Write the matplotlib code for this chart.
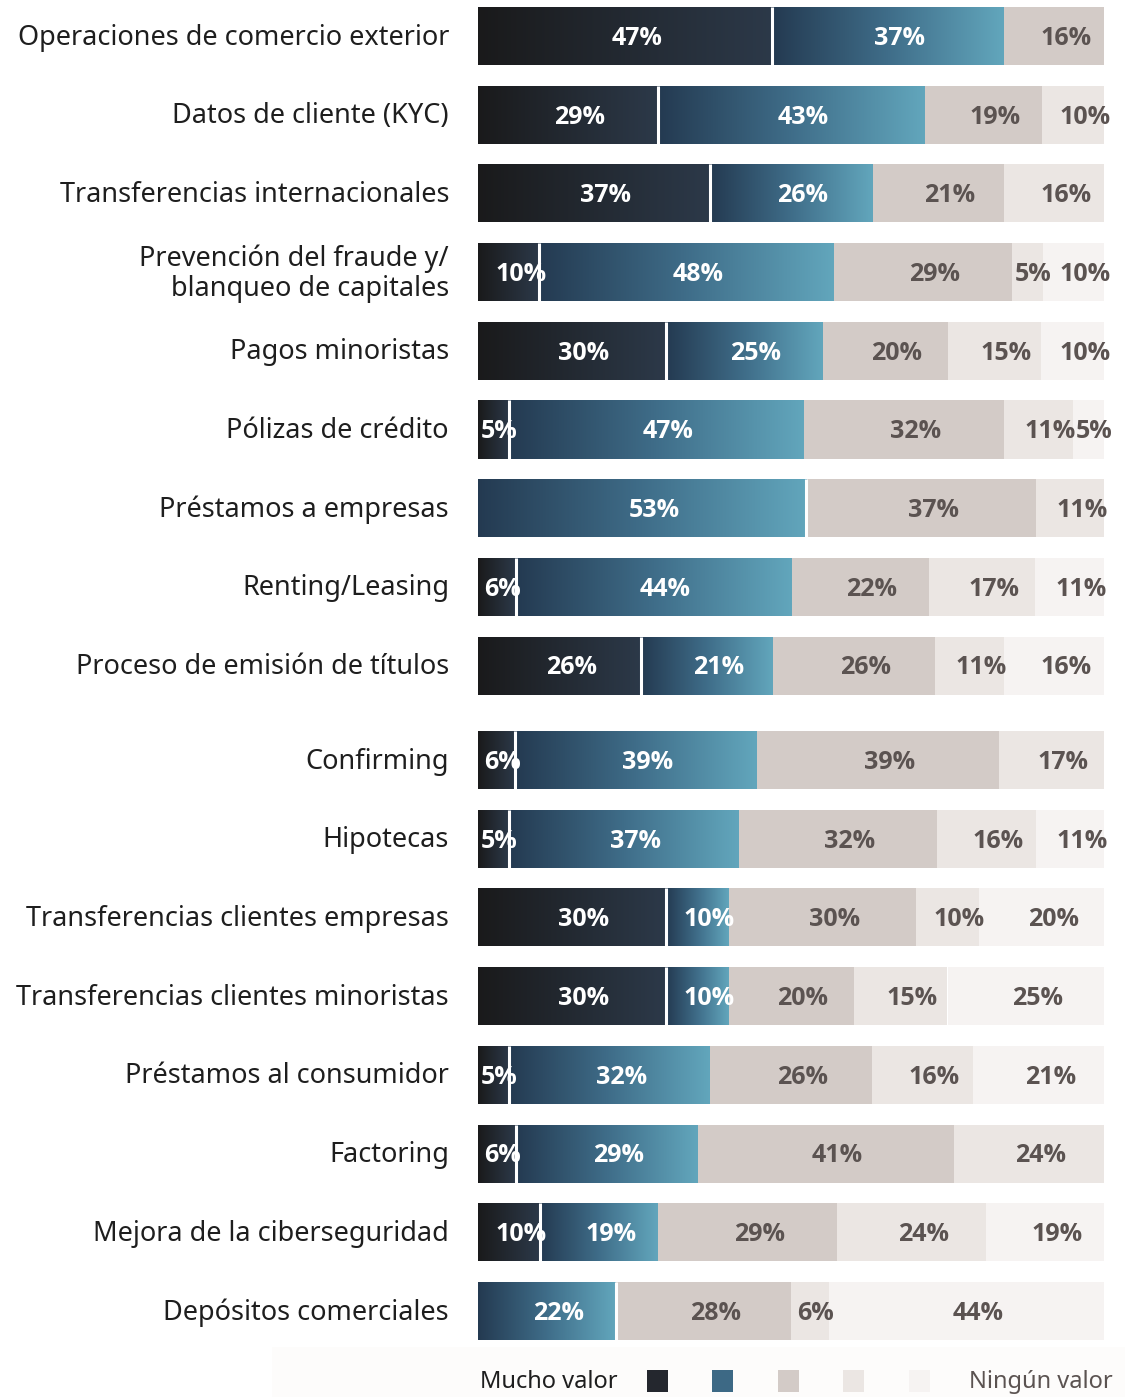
import numpy as np
import matplotlib
matplotlib.use("Agg")
import matplotlib.pyplot as plt
from matplotlib.colors import LinearSegmentedColormap
from matplotlib.patches import Rectangle

# ---------------- data ----------------
categories = [
    "Operaciones de comercio exterior",
    "Datos de cliente (KYC)",
    "Transferencias internacionales",
    "Prevención del fraude y/\nblanqueo de capitales",
    "Pagos minoristas",
    "Pólizas de crédito",
    "Préstamos a empresas",
    "Renting/Leasing",
    "Proceso de emisión de títulos",
    "Confirming",
    "Hipotecas",
    "Transferencias clientes empresas",
    "Transferencias clientes minoristas",
    "Préstamos al consumidor",
    "Factoring",
    "Mejora de la ciberseguridad",
    "Depósitos comerciales",
]
mucho_valor = [47, 29, 37, 10, 30, 5, 0, 6, 26, 6, 5, 30, 30, 5, 6, 10, 0]
valor_2     = [37, 43, 26, 48, 25, 47, 53, 44, 21, 39, 37, 10, 10, 32, 29, 19, 22]
valor_3     = [16, 19, 21, 29, 20, 32, 37, 22, 26, 39, 32, 30, 20, 26, 41, 29, 28]
valor_4     = [0, 10, 16, 5, 15, 11, 11, 17, 11, 17, 16, 10, 15, 16, 24, 24, 6]
ningun_valor = [0, 0, 0, 10, 10, 5, 0, 11, 16, 0, 11, 20, 25, 21, 0, 19, 44]
legend_left = "Mucho valor"
legend_right = "Ningún valor"

# ---------------- style ----------------
W, H, DPI = 1125, 1397, 100
font = "Noto Sans"
plt.rcParams["font.family"] = [font, "DejaVu Sans"]
val_font = ["Open Sans", "DejaVu Sans"]

seg_solid = ["#24272e", "#3d6985", "#d3cbc7", "#ebe6e3", "#f6f3f2"]
grad1 = LinearSegmentedColormap.from_list("g1", ["#1a1a1b", "#2c3949"])
grad2 = LinearSegmentedColormap.from_list("g2", ["#243a51", "#3f6d89", "#62a6bc"])
txt_light = "#ffffff"
txt_dark = "#5b5351"

fig = plt.figure(figsize=(W / DPI, H / DPI), dpi=DPI)
fig.patch.set_facecolor("white")

# faint band at the bottom
bg = fig.add_axes([0, 0, 1, 1], zorder=0)
bg.set_xlim(0, W); bg.set_ylim(H, 0); bg.axis("off")
bg.add_patch(Rectangle((272, 1347), W - 272, H - 1347, color="#fdfcfb", lw=0))

# main axes: y=0 row center at 36px, 78.7px per unit
px_per_unit = 78.7
y_top = -36 / px_per_unit
y_bot = (1345 - 36) / px_per_unit
ax = fig.add_axes([478 / W, (H - 1345) / H, (1104 - 478) / W, 1345 / H], zorder=1)
ax.set_xlim(0, 100)
ax.set_ylim(y_bot, y_top)
ax.axis("off")

positions = [i if i < 9 else i + 0.2 for i in range(len(categories))]
bar_h = 0.737

series = [mucho_valor, valor_2, valor_3, valor_4, ningun_valor]
data = np.array(series, dtype=float)
totals = data.sum(axis=0)
norm = data / totals * 100

lefts = np.zeros(len(categories))
for s in range(5):
    widths = norm[s]
    bars = ax.barh(positions, widths, left=lefts, height=bar_h,
                   color=seg_solid[s], lw=0, zorder=2)
    if s in (0, 1):
        cmap = grad1 if s == 0 else grad2
        for rect in bars.patches:
            if rect.get_width() <= 0:
                continue
            x0, y0 = rect.get_x(), rect.get_y()
            w, h = rect.get_width(), rect.get_height()
            im = ax.imshow(np.linspace(0, 1, 256).reshape(1, -1), cmap=cmap,
                           extent=[x0, x0 + w, y0 + h, y0], aspect="auto",
                           interpolation="bilinear", zorder=3)
            im.set_clip_path(rect)
    for i, (v, l, w) in enumerate(zip(series[s], lefts, widths)):
        if v <= 0:
            continue
        off = 1.9 if v >= 8 else 0.9
        ax.text(l + w / 2 + off, positions[i] + 0.03, f"{v}%", ha="center", va="center",
                fontsize=18, fontweight="bold", family=val_font,
                color=txt_light if s < 2 else txt_dark, zorder=5, clip_on=False)
    lefts = lefts + widths

# white separators
for i in range(len(categories)):
    if mucho_valor[i] > 0:
        xb = norm[0][i]
    else:
        xb = norm[0][i] + norm[1][i]
    ax.plot([xb, xb], [positions[i] - bar_h / 2, positions[i] + bar_h / 2],
            color="white", lw=2.2, zorder=4, solid_capstyle="butt")

# category labels
for i, c in enumerate(categories):
    ax.text(-29 / 6.26, positions[i] + 0.02, c, ha="right", va="center",
            fontsize=19.5, color="#1e1e1e", linespacing=1.1, clip_on=False)

# legend (figure pixel coords)
lg = fig.add_axes([0, 0, 1, 1], zorder=2)
lg.set_xlim(0, W); lg.set_ylim(H, 0); lg.axis("off")
lg.text(480, 1382, legend_left, ha="left", va="center", fontsize=17, color="#1e1e1e")
lg.text(1113, 1382, legend_right, ha="right", va="center", fontsize=17, color="#5b5351")
sq_x = [647, 712, 778, 843, 909]
for k, xs in enumerate(sq_x):
    r = Rectangle((xs, 1370), 21, 22, color=seg_solid[k], lw=0)
    lg.add_patch(r)
    if k < 2:
        cm = grad1 if k == 0 else grad2
        im = lg.imshow(np.linspace(0, 1, 64).reshape(1, -1), cmap=cm,
                       extent=[xs, xs + 21, 1392, 1370], aspect="auto")
        im.set_clip_path(r)
lg.set_xlim(0, W); lg.set_ylim(H, 0)

fig.savefig("out.png", dpi=DPI, facecolor="white")
